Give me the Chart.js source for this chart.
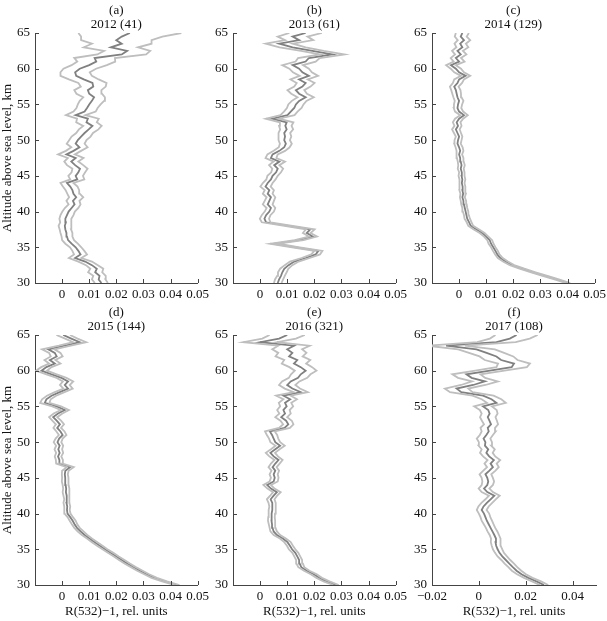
<!DOCTYPE html>
<html><head><meta charset="utf-8">
<script src="https://cdn.jsdelivr.net/npm/chart.js@4"></script>
<style>
html,body{margin:0;padding:0;background:#fff;}
#wrap{position:relative;width:607px;height:621px;overflow:hidden;background:#fff;}
#wrap canvas{position:absolute;}
</style></head><body><div id="wrap"></div>
<script>
// ---------- DATA ----------
const altitudes = [30,30.5,31,31.5,32,32.5,33,33.5,34,34.5,35,35.5,36,36.5,37,37.5,38,38.5,39,39.5,
  40,40.5,41,41.5,42,42.5,43,43.5,44,44.5,45,45.5,46,46.5,47,47.5,48,48.5,49,49.5,
  50,50.5,51,51.5,52,52.5,53,53.5,54,54.5,55,55.5,56,56.5,57,57.5,58,58.5,59,59.5,
  60,60.5,61,61.5,62,62.5,63,63.5,64,64.5,65];

const panelLetters = ['(a)','(b)','(c)','(d)','(e)','(f)'];
const panelYears = ['2012 (41)','2013 (61)','2014 (129)','2015 (144)','2016 (321)','2017 (108)'];

const val2012 = [0.0145,0.0135,0.0138,0.0122,0.0128,0.0110,0.0085,0.0048,0.0068,0.0060,
  0.0050,0.0035,0.0022,0.0018,0.0016,0.0012,0.0010,0.0014,0.0012,0.0018,
  0.0024,0.0035,0.0046,0.0040,0.0052,0.0042,0.0038,0.0030,0.0018,0.0056,
  0.0050,0.0060,0.0066,0.0048,0.0034,0.0050,0.0016,0.0042,0.0064,0.0050,
  0.0058,0.0070,0.0083,0.0098,0.0112,0.0090,0.0095,0.0050,0.0083,0.0092,
  0.0100,0.0110,0.0118,0.0100,0.0095,0.0115,0.0112,0.0080,0.0052,0.0048,
  0.0065,0.0100,0.0126,0.0120,0.0220,0.0240,0.0180,0.0220,0.0200,0.0220,0.0250];
const err2012 = [0.0024,0.0025,0.0023,0.0026,0.0024,0.0022,0.0025,0.0023,0.0024,
  0.0022,0.0021,0.0023,0.0022,0.0020,0.0022,0.0021,0.0023,0.0021,0.0022,0.0024,
  0.0023,0.0025,0.0022,0.0024,0.0026,0.0023,0.0025,0.0027,0.0024,0.0026,
  0.0027,0.0025,0.0028,0.0030,0.0026,0.0029,0.0031,0.0028,0.0030,0.0033,
  0.0032,0.0035,0.0031,0.0036,0.0034,0.0038,0.0040,0.0036,0.0041,0.0039,
  0.0042,0.0045,0.0040,0.0047,0.0050,0.0046,0.0052,0.0055,0.0058,0.0054,
  0.0060,0.0065,0.0070,0.0075,0.0090,0.0085,0.0100,0.0110,0.0130,0.0150,0.0190];

const val2013 = [0.0065,0.0070,0.0077,0.0082,0.0089,0.0105,0.0126,0.0168,0.0205,0.0215,
  0.0132,0.0052,0.0144,0.0195,0.0172,0.0185,0.0105,0.0022,0.0016,0.0022,
  0.0034,0.0040,0.0028,0.0034,0.0040,0.0028,0.0034,0.0020,0.0028,0.0040,
  0.0046,0.0059,0.0065,0.0052,0.0071,0.0040,0.0046,0.0071,0.0089,0.0095,
  0.0089,0.0092,0.0089,0.0098,0.0093,0.0098,0.0045,0.0101,0.0113,0.0126,
  0.0132,0.0144,0.0168,0.0144,0.0132,0.0156,0.0168,0.0144,0.0180,0.0156,
  0.0144,0.0120,0.0168,0.0180,0.0266,0.0193,0.0120,0.0071,0.0144,0.0120,0.0168];
const err2013 = [0.0014,0.0015,0.0014,0.0016,0.0015,0.0014,0.0016,0.0015,0.0016,
  0.0015,0.0014,0.0015,0.0016,0.0015,0.0014,0.0016,0.0015,0.0016,0.0017,0.0016,
  0.0017,0.0016,0.0018,0.0017,0.0016,0.0018,0.0017,0.0019,0.0018,0.0017,
  0.0019,0.0018,0.0020,0.0019,0.0021,0.0020,0.0019,0.0021,0.0020,0.0022,
  0.0021,0.0023,0.0022,0.0024,0.0023,0.0025,0.0024,0.0026,0.0025,0.0027,
  0.0028,0.0027,0.0030,0.0029,0.0031,0.0030,0.0033,0.0032,0.0034,0.0035,
  0.0036,0.0038,0.0037,0.0040,0.0045,0.0042,0.0048,0.0050,0.0052,0.0055,0.0060];

const val2014 = [0.0402,0.0360,0.0317,0.0274,0.0232,0.0195,0.0171,0.0152,0.0141,0.0134,
  0.0126,0.0118,0.0113,0.0100,0.0085,0.0064,0.0043,0.0037,0.0030,0.0027,
  0.0024,0.0021,0.0018,0.0016,0.0012,0.0015,0.0012,0.0013,0.0010,0.0012,
  0.0009,0.0010,0.0006,0.0009,0.0006,0.0004,0.0000,0.0004,0.0000,-0.0006,
  -0.0004,0.0000,-0.0006,-0.0012,-0.0004,-0.0009,0.0000,0.0018,0.0000,-0.0006,
  -0.0004,0.0000,-0.0006,-0.0009,-0.0012,-0.0018,-0.0006,0.0000,0.0024,0.0000,
  -0.0012,-0.0030,0.0000,-0.0012,0.0006,-0.0006,0.0012,0.0004,0.0018,0.0006,0.0012];
const err2014 = [0.0008,0.0008,0.0009,0.0008,0.0009,0.0008,0.0009,0.0009,0.0008,
  0.0009,0.0008,0.0009,0.0009,0.0008,0.0009,0.0010,0.0009,0.0009,0.0010,0.0009,
  0.0010,0.0009,0.0010,0.0010,0.0009,0.0010,0.0011,0.0010,0.0010,0.0011,
  0.0011,0.0010,0.0011,0.0012,0.0011,0.0012,0.0011,0.0012,0.0013,0.0012,
  0.0013,0.0012,0.0013,0.0014,0.0013,0.0014,0.0015,0.0014,0.0015,0.0014,
  0.0015,0.0016,0.0015,0.0016,0.0017,0.0016,0.0017,0.0018,0.0017,0.0018,
  0.0019,0.0018,0.0020,0.0019,0.0021,0.0020,0.0022,0.0021,0.0023,0.0022,0.0024];

const val2015 = [0.0424,0.0378,0.0340,0.0312,0.0287,0.0263,0.0240,0.0220,0.0200,0.0179,
  0.0158,0.0139,0.0120,0.0101,0.0083,0.0068,0.0055,0.0046,0.0039,0.0030,
  0.0020,0.0018,0.0019,0.0016,0.0018,0.0016,0.0014,0.0015,0.0013,0.0011,
  0.0012,0.0010,0.0012,0.0030,-0.0010,-0.0010,-0.0015,-0.0009,-0.0014,-0.0009,
  -0.0017,-0.0011,0.0002,-0.0006,-0.0018,-0.0008,-0.0020,-0.0033,-0.0015,0.0010,
  -0.0020,-0.0064,-0.0058,-0.0039,-0.0009,0.0022,0.0010,0.0022,-0.0002,-0.0039,
  -0.0076,-0.0058,-0.0027,-0.0045,-0.0020,-0.0027,-0.0051,0.0010,0.0065,0.0034,0.0004];
const err2015 = [0.0009,0.0009,0.0010,0.0009,0.0010,0.0009,0.0010,0.0010,0.0009,
  0.0010,0.0009,0.0010,0.0010,0.0009,0.0010,0.0011,0.0010,0.0010,0.0011,0.0010,
  0.0011,0.0010,0.0011,0.0011,0.0010,0.0011,0.0012,0.0011,0.0011,0.0012,
  0.0012,0.0011,0.0012,0.0013,0.0012,0.0013,0.0012,0.0013,0.0014,0.0013,
  0.0014,0.0013,0.0014,0.0015,0.0014,0.0015,0.0016,0.0015,0.0016,0.0015,
  0.0016,0.0017,0.0016,0.0017,0.0018,0.0017,0.0018,0.0019,0.0018,0.0019,
  0.0020,0.0019,0.0021,0.0020,0.0022,0.0021,0.0023,0.0022,0.0024,0.0023,0.0025];

const val2016 = [0.0280,0.0245,0.0218,0.0198,0.0172,0.0152,0.0146,0.0144,0.0137,0.0130,
  0.0118,0.0110,0.0101,0.0084,0.0062,0.0050,0.0046,0.0044,0.0042,0.0042,
  0.0043,0.0045,0.0046,0.0044,0.0039,0.0050,0.0062,0.0040,0.0026,0.0050,
  0.0054,0.0050,0.0056,0.0046,0.0056,0.0068,0.0050,0.0038,0.0056,0.0074,
  0.0056,0.0050,0.0044,0.0036,0.0090,0.0104,0.0096,0.0078,0.0092,0.0086,
  0.0098,0.0092,0.0111,0.0086,0.0150,0.0119,0.0100,0.0113,0.0140,0.0150,
  0.0168,0.0150,0.0125,0.0137,0.0107,0.0119,0.0100,0.0125,0.0000,0.0070,0.0100];
const err2016 = [0.0010,0.0011,0.0010,0.0011,0.0010,0.0011,0.0012,0.0011,0.0011,
  0.0011,0.0012,0.0011,0.0012,0.0011,0.0012,0.0012,0.0011,0.0012,0.0013,0.0012,
  0.0012,0.0013,0.0012,0.0013,0.0014,0.0013,0.0014,0.0013,0.0014,0.0015,
  0.0014,0.0015,0.0014,0.0015,0.0016,0.0015,0.0016,0.0017,0.0016,0.0017,
  0.0018,0.0017,0.0019,0.0018,0.0020,0.0019,0.0021,0.0022,0.0021,0.0023,
  0.0024,0.0023,0.0025,0.0027,0.0026,0.0028,0.0030,0.0032,0.0034,0.0036,
  0.0040,0.0042,0.0045,0.0048,0.0050,0.0052,0.0055,0.0058,0.0062,0.0062,0.0065];

const val2017 = [0.0278,0.0246,0.0211,0.0182,0.0161,0.0145,0.0130,0.0115,0.0100,0.0088,
  0.0080,0.0074,0.0071,0.0073,0.0066,0.0058,0.0050,0.0042,0.0034,0.0028,
  0.0022,0.0012,0.0020,0.0034,0.0050,0.0066,0.0036,0.0022,0.0036,0.0040,
  0.0036,0.0028,0.0045,0.0060,0.0050,0.0064,0.0044,0.0032,0.0040,0.0026,
  0.0028,0.0020,0.0032,0.0042,0.0038,0.0052,0.0045,0.0038,0.0046,0.0040,
  0.0018,0.0075,0.0054,0.0018,-0.0075,-0.0095,-0.0024,0.0026,-0.0031,-0.0053,
  0.0047,0.0140,0.0150,0.0095,0.0075,0.0033,-0.0010,-0.0140,0.0075,0.0132,0.0161];
const err2017 = [0.0018,0.0019,0.0018,0.0019,0.0020,0.0019,0.0020,0.0019,0.0020,
  0.0019,0.0020,0.0019,0.0020,0.0021,0.0020,0.0021,0.0020,0.0021,0.0022,0.0021,
  0.0022,0.0021,0.0022,0.0023,0.0022,0.0023,0.0024,0.0023,0.0024,0.0025,
  0.0024,0.0025,0.0026,0.0025,0.0026,0.0027,0.0026,0.0027,0.0028,0.0027,
  0.0028,0.0029,0.0028,0.0030,0.0031,0.0030,0.0032,0.0033,0.0034,0.0036,
  0.0038,0.0040,0.0042,0.0045,0.0048,0.0050,0.0052,0.0055,0.0058,0.0060,
  0.0062,0.0065,0.0068,0.0070,0.0072,0.0075,0.0078,0.0080,0.0082,0.0085,0.0090];

const xTicksMain = [0, 0.01, 0.02, 0.03, 0.04, 0.05];
const xTicks2017 = [-0.02, 0, 0.02, 0.04];
const yTicks = [30, 35, 40, 45, 50, 55, 60, 65];
const xAxisTitle = 'R(532)\u22121, rel. units';
const yAxisTitle = 'Altitude above sea level, km';

// ---------- LAYOUT ----------
const FONT = "'Liberation Serif', 'Times New Roman', Times, serif";
const colCanvasLeft = [0, 203, 402];
const colScaleW = [35, 30, 30];
const rowTop = [0, 300];
const rowChartTop = [33, 35];
const rowXScaleH = [20, 36];
const PLOT_W = 164, PLOT_H = 250, PAD_R = 14;

const panels = [
  {vals: val2012, errs: err2012, xMin: -0.01, xMax: 0.05, ticks: xTicksMain, col: 0, row: 0},
  {vals: val2013, errs: err2013, xMin: -0.01, xMax: 0.05, ticks: xTicksMain, col: 1, row: 0},
  {vals: val2014, errs: err2014, xMin: -0.01, xMax: 0.05, ticks: xTicksMain, col: 2, row: 0},
  {vals: val2015, errs: err2015, xMin: -0.01, xMax: 0.05, ticks: xTicksMain, col: 0, row: 1},
  {vals: val2016, errs: err2016, xMin: -0.01, xMax: 0.05, ticks: xTicksMain, col: 1, row: 1},
  {vals: val2017, errs: err2017, xMin: -0.02, xMax: 0.05, ticks: xTicks2017, col: 2, row: 1}
];

function fmtTick(v) {
  if (Math.abs(v) < 1e-9) return '0';
  const s = Math.abs(v).toFixed(2);
  return (v < 0 ? '\u2212' : '') + s;
}

const inwardTicks = {
  id: 'inwardTicks',
  afterDraw(chart) {
    const {ctx, chartArea: a, scales} = chart;
    const x = scales.x, y = scales.y;
    ctx.save();
    ctx.strokeStyle = '#444';
    ctx.lineWidth = 1;
    ctx.beginPath();
    y.ticks.forEach(t => {
      const py = Math.round(y.getPixelForValue(t.value)) + 0.5;
      ctx.moveTo(a.left, py); ctx.lineTo(a.left + 4, py);
    });
    x.ticks.forEach(t => {
      const px = Math.round(x.getPixelForValue(t.value)) + 0.5;
      ctx.moveTo(px, a.bottom); ctx.lineTo(px, a.bottom - 4);
    });
    ctx.stroke();
    ctx.restore();
  }
};

function drawAll() {
  const wrap = document.getElementById('wrap');
  panels.forEach((p, i) => {
    const yw = colScaleW[p.col];
    const ct = rowChartTop[p.row];
    const xh = rowXScaleH[p.row];
    const cv = document.createElement('canvas');
    const W = yw + PLOT_W + PAD_R;
    const H = ct + PLOT_H + xh;
    cv.width = W; cv.height = H;
    cv.style.left = colCanvasLeft[p.col] + 'px';
    cv.style.top = rowTop[p.row] + 'px';
    cv.style.width = W + 'px'; cv.style.height = H + 'px';
    wrap.appendChild(cv);

    const center = altitudes.map((h, k) => ({x: p.vals[k], y: h}));
    const upper = altitudes.map((h, k) => ({x: p.vals[k] + p.errs[k], y: h}));
    const lower = altitudes.map((h, k) => ({x: p.vals[k] - p.errs[k], y: h}));

    const outer = {borderColor: '#bebebe', borderWidth: 1.8, pointRadius: 0, fill: false, tension: 0};
    const inner = {borderColor: '#f4f4f4', borderWidth: 0.5, pointRadius: 0, fill: false, tension: 0};

    new Chart(cv, {
      type: 'line',
      data: {
        datasets: [
          Object.assign({label: 'lower', data: lower}, outer),
          Object.assign({label: 'upper', data: upper}, outer),
          Object.assign({label: 'lower-in', data: lower}, inner),
          Object.assign({label: 'upper-in', data: upper}, inner),
          {label: 'mean', data: center, borderColor: '#808080', borderWidth: 1.8, pointRadius: 0, fill: false, tension: 0}
        ]
      },
      options: {
        responsive: false,
        animation: false,
        devicePixelRatio: 1,
        indexAxis: 'y',
        layout: {padding: {left: 0, right: PAD_R, top: 0, bottom: 0}},
        plugins: {
          legend: {display: false},
          tooltip: {enabled: false},
          title: {
            display: true,
            text: [panelLetters[i], panelYears[i]],
            fullSize: false,
            color: '#111',
            font: {family: FONT, size: 13, weight: 'normal', lineHeight: 14 / 13},
            padding: {top: ct - 29, bottom: 1}
          }
        },
        scales: {
          x: {
            type: 'linear',
            position: 'bottom',
            min: p.xMin, max: p.xMax,
            afterBuildTicks: s => { s.ticks = p.ticks.map(v => ({value: v})); },
            afterFit: s => { s.height = xh; },
            grid: {display: false, drawTicks: false},
            border: {display: true, color: '#444', width: 1},
            ticks: {padding: 4, color: '#111', font: {family: FONT, size: 13}, maxRotation: 0, autoSkip: false, callback: v => fmtTick(v)},
            title: {display: p.row === 1, text: xAxisTitle, color: '#111', font: {family: FONT, size: 13, lineHeight: 14 / 13}, padding: {top: 0, bottom: 2}}
          },
          y: {
            type: 'linear',
            position: 'left',
            min: 30, max: 65,
            afterBuildTicks: s => { s.ticks = yTicks.map(v => ({value: v})); },
            afterFit: s => { s.width = yw; },
            grid: {display: false, drawTicks: false},
            border: {display: true, color: '#444', width: 1},
            ticks: {padding: 5, color: '#111', font: {family: FONT, size: 13}, autoSkip: false, callback: v => String(v)},
            title: {display: p.col === 0, text: yAxisTitle, color: '#111', font: {family: FONT, size: 13, lineHeight: 14 / 13}, padding: {top: 1, bottom: 0}}
          }
        }
      },
      plugins: [inwardTicks]
    });
  });
}

Chart.defaults.font.family = FONT;
if (document.fonts && document.fonts.load) {
  document.fonts.load("13px 'Liberation Serif'").then(drawAll, drawAll);
} else {
  drawAll();
}
</script>
</body></html>
